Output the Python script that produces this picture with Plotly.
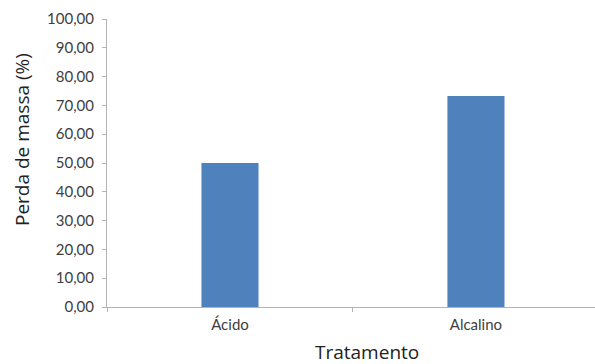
import plotly.graph_objects as go

categorias = ["Ácido", "Alcalino"]
perda_massa = [50.0, 73.3]
y_ticks = [0, 10, 20, 30, 40, 50, 60, 70, 80, 90, 100]
y_tick_labels = ["0,00", "10,00", "20,00", "30,00", "40,00", "50,00",
                 "60,00", "70,00", "80,00", "90,00", "100,00"]

FONT = "Lato, 'Open Sans', sans-serif"
TITLE_FONT = "'Open Sans', Lato, sans-serif"
AX = "#b3b3b3"

fig = go.Figure(go.Bar(
    x=categorias, y=perda_massa,
    marker=dict(color="#4f81bd", line=dict(width=0)),
    width=0.232,
))

fig.update_layout(
    width=595, height=364,
    margin=dict(l=107, r=0, t=19, b=57),
    paper_bgcolor="white", plot_bgcolor="white",
    showlegend=False,
    font=dict(family=FONT, color="#404040"),
    xaxis=dict(
        range=[-0.5, 1.484],
        showline=True, linecolor=AX, linewidth=1,
        ticks="outside", tickson="boundaries", ticklen=4, tickcolor=AX,
        tickfont=dict(size=15, color="#404040"),
        ticklabelstandoff=4,
        showgrid=False, zeroline=False,
    ),
    yaxis=dict(
        range=[0, 100],
        tickvals=y_ticks, ticktext=y_tick_labels,
        showline=True, linecolor=AX, linewidth=1,
        ticks="outside", ticklen=4, tickcolor=AX,
        tickfont=dict(size=15, color="#404040"),
        ticklabelstandoff=5,
        showgrid=False, zeroline=False,
    ),
    annotations=[
        dict(text="Perda de massa (%)", textangle=-90,
             xref="paper", yref="paper", x=(22 - 107) / 488, y=(307 - 140) / 288,
             xanchor="center", yanchor="middle", showarrow=False,
             font=dict(family=TITLE_FONT, size=19, color="#222222")),
        dict(text="Tratamento",
             xref="paper", yref="paper", x=(367 - 107) / 488, y=(307 - 337) / 288,
             xanchor="center", yanchor="top", showarrow=False,
             font=dict(family=TITLE_FONT, size=19, color="#222222")),
    ],
)

fig.write_html("out.html")
